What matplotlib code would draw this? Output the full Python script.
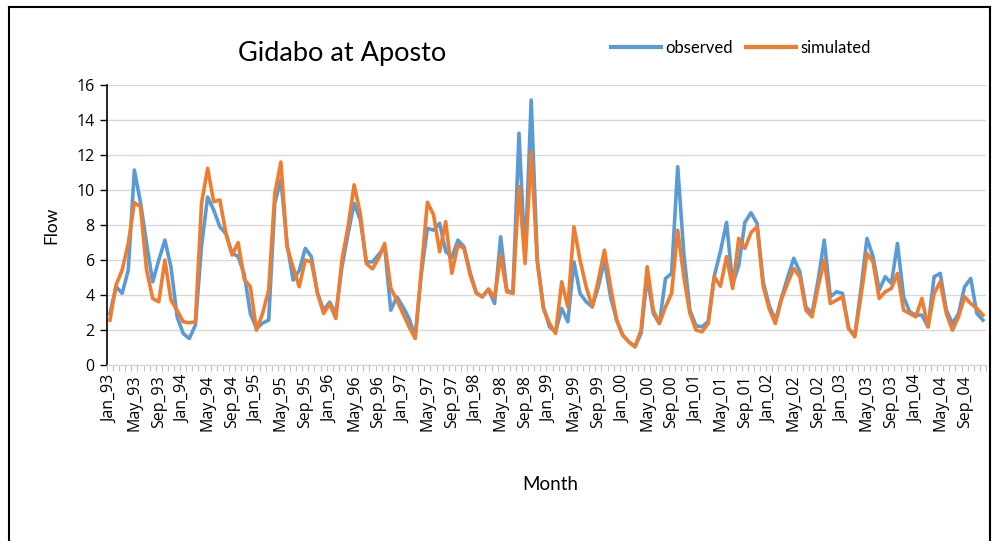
import numpy as np
import matplotlib
matplotlib.use("Agg")
import matplotlib.pyplot as plt
from matplotlib.lines import Line2D

# monthly flow, Jan 1993 .. Dec 2004
months = ["Jan", "Feb", "Mar", "Apr", "May", "Jun",
          "Jul", "Aug", "Sep", "Oct", "Nov", "Dec"]
years = ["93", "94", "95", "96", "97", "98", "99", "00", "01", "02", "03", "04"]
month_labels = [f"{m}_{y}" for y in years for m in months]

observed = [
    2.95, 4.48, 4.10, 5.43, 11.14, 9.30, 6.95, 4.76, 6.00, 7.14, 5.60, 2.76,
    1.81, 1.52, 2.29, 6.80, 9.60, 8.86, 7.90, 7.50, 6.40, 6.20, 5.20, 2.95,
    2.10, 2.40, 2.57, 9.24, 10.60, 6.95, 4.86, 5.40, 6.67, 6.19, 4.10, 3.14,
    3.60, 2.95, 5.60, 7.50, 9.24, 8.30, 5.90, 5.90, 6.30, 6.76, 3.14, 3.90,
    3.33, 2.67, 1.62, 5.20, 7.81, 7.71, 8.10, 6.50, 6.15, 7.14, 6.76, 5.30,
    4.15, 3.90, 4.33, 3.52, 7.33, 4.29, 4.10, 13.24, 6.00, 15.14, 6.00, 3.33,
    2.19, 1.90, 3.24, 2.48, 5.90, 4.10, 3.62, 3.33, 4.48, 6.00, 3.90, 2.57,
    1.71, 1.33, 1.05, 1.81, 5.05, 2.95, 2.38, 4.95, 5.24, 11.33, 6.38, 3.14,
    2.25, 2.19, 2.50, 5.10, 6.50, 8.15, 4.60, 5.70, 8.15, 8.70, 8.10, 4.75,
    3.40, 2.55, 3.85, 5.00, 6.10, 5.33, 3.33, 2.95, 4.86, 7.14, 3.90, 4.19,
    4.10, 2.10, 1.70, 4.30, 7.24, 6.19, 4.29, 5.05, 4.67, 6.95, 3.90, 3.05,
    2.86, 2.86, 2.19, 5.05, 5.24, 3.14, 2.38, 2.95, 4.48, 4.95, 2.95, 2.57,
]
simulated = [
    2.57, 4.57, 5.43, 6.95, 9.28, 9.05, 5.43, 3.81, 3.62, 6.00, 3.71, 3.14,
    2.48, 2.42, 2.48, 9.24, 11.24, 9.33, 9.43, 7.52, 6.29, 7.00, 4.90, 4.48,
    2.00, 2.95, 4.29, 9.80, 11.60, 6.76, 5.60, 4.48, 6.00, 5.90, 4.10, 2.95,
    3.50, 2.67, 6.00, 7.90, 10.30, 8.67, 5.80, 5.50, 6.10, 6.95, 4.40, 3.70,
    2.95, 2.19, 1.52, 5.40, 9.30, 8.60, 6.48, 8.19, 5.24, 6.86, 6.67, 5.15,
    4.10, 3.90, 4.35, 3.85, 6.29, 4.19, 4.10, 10.19, 5.81, 12.19, 5.90, 3.24,
    2.38, 1.81, 4.76, 3.33, 7.90, 6.00, 4.48, 3.33, 4.86, 6.57, 4.48, 2.57,
    1.71, 1.33, 1.05, 2.00, 5.62, 3.14, 2.38, 3.33, 4.10, 7.71, 5.05, 2.95,
    2.00, 1.91, 2.38, 5.05, 4.50, 6.20, 4.38, 7.24, 6.67, 7.57, 7.90, 4.52,
    3.20, 2.38, 3.76, 4.67, 5.52, 5.05, 3.14, 2.76, 4.48, 6.00, 3.52, 3.71,
    3.90, 2.10, 1.62, 3.90, 6.38, 5.90, 3.81, 4.19, 4.38, 5.24, 3.14, 2.95,
    2.76, 3.81, 2.19, 4.10, 4.76, 2.95, 2.00, 2.76, 3.90, 3.52, 3.24, 2.86,
]
y_ticks = [0, 2, 4, 6, 8, 10, 12, 14, 16]

BLUE = "#5B9BD5"
ORANGE = "#ED7D31"
GRID = "#d9d9d9"
LABEL_FONT = ["Lato", "DejaVu Sans"]

plt.rcParams["font.family"] = ["Open Sans", "DejaVu Sans"]

fig = plt.figure(figsize=(9.99, 5.41), dpi=100, facecolor="white")
ax = fig.add_axes([0.107, 0.325, 0.880, 0.518])

x = np.arange(len(month_labels))
ax.plot(x, observed, color=BLUE, lw=2.6, zorder=3)
ax.plot(x, simulated, color=ORANGE, lw=2.6, zorder=4)

ax.set_xlim(-0.5, len(month_labels) - 0.5)
ax.set_ylim(0, 16)
ax.set_yticks(y_ticks)
ax.yaxis.grid(True, color=GRID, lw=1.0)
ax.set_axisbelow(True)

ax.set_xticks(x[::4])
ax.set_xticklabels(month_labels[::4], rotation=90, fontsize=11.5)
ax.set_xticks(np.arange(-0.5, len(month_labels)), minor=True)
ax.tick_params(axis="x", which="major", length=0, pad=7)
ax.tick_params(axis="x", which="minor", length=4, color="#bfbfbf", width=0.8)
ax.tick_params(axis="y", length=5, color="black", width=1, labelsize=11.5, pad=4)

for s in ["top", "right"]:
    ax.spines[s].set_visible(False)
ax.spines["left"].set_color("black")
ax.spines["left"].set_linewidth(1.2)
ax.spines["bottom"].set_color(GRID)
ax.spines["bottom"].set_linewidth(1.0)

ax.set_ylabel("Flow", fontsize=12.5, family=LABEL_FONT, labelpad=12)
fig.text(0.551, 0.105, "Month", ha="center", va="center", fontsize=13.5,
         family=LABEL_FONT)
fig.text(0.342, 0.902, "Gidabo at Aposto", ha="center", va="center",
         fontsize=19.5, family=LABEL_FONT)

handles = [Line2D([], [], color=BLUE, lw=3), Line2D([], [], color=ORANGE, lw=3)]
fig.legend(handles, ["observed", "simulated"], ncol=2, frameon=False,
           loc="center", bbox_to_anchor=(0.742, 0.912),
           handlelength=3.0, handletextpad=0.25, columnspacing=0.8,
           prop={"family": LABEL_FONT, "size": 12})

# outer frame of the chart box
frame = dict(color="black", lw=1.5, transform=fig.transFigure, clip_on=False)
fig.add_artist(Line2D([0.009, 0.009], [0.0, 0.987], **frame))
fig.add_artist(Line2D([0.009, 0.991], [0.987, 0.987], **frame))
fig.add_artist(Line2D([0.991, 0.991], [0.0, 0.987], **frame))

fig.savefig("out.png", dpi=100, facecolor="white")
